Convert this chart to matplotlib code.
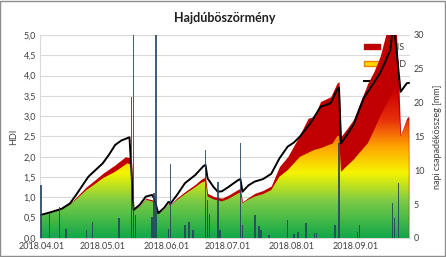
import matplotlib
matplotlib.use("Agg")
import matplotlib.pyplot as plt
import matplotlib.dates as mdates
import numpy as np
from matplotlib.colors import LinearSegmentedColormap
from matplotlib.patches import Rectangle, Patch
from matplotlib.lines import Line2D

plt.rcParams['font.family'] = ['Lato', 'DejaVu Sans']

START = np.datetime64('2018-04-01')

# HDI (black line): day offset from 2018-04-01, value
hdi_days = [0, 5, 10, 14, 17, 23, 30, 33, 36, 39, 42, 43, 45, 48, 51, 54, 55, 57,
            60, 62, 63, 66, 70, 75, 79, 80, 81, 84, 86, 88, 91, 96, 97, 98, 101,
            104, 108, 112, 116, 120, 123, 126, 131, 136, 141, 144, 145, 146, 149,
            152, 157, 161, 165, 168, 170, 171, 172, 173, 174, 175, 178, 179]
hdi_vals = [0.57, 0.64, 0.72, 0.85, 1.06, 1.51, 1.84, 2.05, 2.29, 2.40, 2.46, 2.48,
            0.69, 0.82, 1.02, 1.06, 0.98, 0.61, 0.75, 0.89, 0.85, 1.05, 1.35, 1.55,
            1.77, 1.80, 1.47, 1.25, 1.14, 1.15, 1.25, 1.43, 1.45, 1.14, 1.30, 1.39,
            1.45, 1.58, 1.96, 2.25, 2.35, 2.50, 2.82, 3.23, 3.32, 3.65, 3.70, 2.33,
            2.55, 2.78, 3.44, 3.75, 4.06, 4.40, 4.63, 5.10, 5.10, 4.63, 4.10, 3.60,
            3.81, 3.82]

# HDIS (red area)
hdis_days = [0, 5, 10, 14, 17, 22, 26, 30, 36, 41, 43, 44, 45, 48, 51, 54, 55, 57,
             60, 62, 63, 66, 70, 75, 78, 80, 81, 84, 88, 91, 96, 97, 98, 101, 104,
             108, 112, 116, 120, 125, 130, 133, 136, 141, 144, 145, 146, 149, 152,
             155, 159, 162, 165, 168, 172, 173, 174, 175, 178, 179]
hdis_vals = [0.55, 0.63, 0.72, 0.85, 1.00, 1.26, 1.42, 1.59, 1.80, 2.00, 1.98, 1.90,
             0.69, 0.80, 0.98, 0.94, 0.90, 0.61, 0.72, 0.85, 0.83, 0.98, 1.14, 1.32,
             1.45, 1.50, 1.10, 1.02, 0.98, 1.05, 1.20, 1.22, 0.89, 1.00, 1.10, 1.17,
             1.28, 1.76, 2.00, 2.45, 2.95, 2.99, 3.36, 3.48, 3.81, 3.85, 2.50, 2.70,
             2.91, 3.30, 3.81, 4.10, 4.47, 5.05, 5.10, 5.00, 4.00, 2.54, 2.95, 3.00]

# HDID (gradient area)
hdid_days = [0, 5, 10, 14, 17, 22, 26, 30, 36, 42, 43, 44, 45, 48, 51, 54, 55, 57,
             60, 62, 63, 66, 70, 75, 78, 80, 81, 84, 88, 91, 96, 97, 98, 101, 104,
             108, 112, 116, 120, 126, 133, 136, 142, 144, 145, 146, 149, 152, 155,
             159, 162, 165, 170, 173, 174, 175, 178, 179]
hdid_vals = [0.54, 0.62, 0.70, 0.82, 0.95, 1.18, 1.32, 1.47, 1.63, 1.84, 1.82, 1.80,
             0.66, 0.77, 0.94, 0.90, 0.87, 0.59, 0.70, 0.82, 0.80, 0.93, 1.08, 1.25,
             1.36, 1.40, 1.02, 0.95, 0.90, 0.96, 1.10, 1.12, 0.86, 0.95, 1.02, 1.08,
             1.18, 1.51, 1.67, 2.00, 2.17, 2.21, 2.33, 2.50, 2.52, 1.63, 1.78, 1.92,
             2.10, 2.33, 2.65, 2.99, 3.48, 3.81, 3.30, 2.50, 2.88, 2.92]

# daily precipitation [mm]
rain_days = [0, 4, 9, 12, 22, 25, 38, 44, 45, 46, 54, 55, 56, 62, 63, 70, 72, 74,
             80, 81, 82, 86, 87, 97, 98, 104, 106, 107, 111, 120, 123, 125, 129,
             133, 134, 143, 145, 154, 155, 171, 172, 174]
rain_vals = [7.8, 3.7, 4.6, 1.4, 1.2, 2.4, 2.9, 20.9, 32.0, 3.4, 3.1, 6.6, 32.0,
             1.4, 11.0, 1.9, 2.4, 1.2, 13.0, 5.6, 3.6, 8.3, 1.2, 14.0, 1.9, 3.4,
             1.7, 1.2, 0.4, 2.7, 0.6, 0.9, 2.2, 0.8, 0.8, 1.9, 14.0, 0.9, 1.9, 5.1,
             3.0, 8.1]


def to_num(days):
    return mdates.date2num(START + np.array(days, dtype='timedelta64[D]'))


fig = plt.figure(figsize=(4.46, 2.57), dpi=100)
ax = fig.add_axes([0.09, 0.074, 0.829, 0.79])
ax2 = ax.twinx()

x_lo = to_num([0])[0] - 0.5
x_hi = to_num([179])[0] + 0.5

# red HDIS area
ax.fill_between(to_num(hdis_days), 0, hdis_vals, color='#c00000', lw=0, zorder=1.5)

# gradient HDID area
cmap = LinearSegmentedColormap.from_list('hdid', [
    (0.0, '#10a84a'), (0.18, '#7ccb45'), (0.32, '#f6f400'),
    (0.45, '#ffa200'), (0.58, '#e8300c'), (0.72, '#cc0000'), (1.0, '#c00000')])
grad = np.linspace(0, 1, 256).reshape(-1, 1)
im = ax.imshow(grad, extent=[x_lo, x_hi, 0, 5], aspect='auto', cmap=cmap,
               origin='lower', zorder=2, interpolation='bilinear')
poly = ax.fill_between(to_num(hdid_days), 0, hdid_vals, facecolor='none',
                       edgecolor='none')
im.set_clip_path(poly.get_paths()[0], transform=ax.transData)

ax.plot(to_num(hdi_days), hdi_vals, color='black', lw=1.4, zorder=3)

ax.set_xlim(x_lo, x_hi)
ax.set_ylim(0, 5)
ax.set_yticks(np.arange(0, 5.01, 0.5))
ax.set_yticklabels([f"{v:.1f}".replace('.', ',') for v in np.arange(0, 5.01, 0.5)])
ax.grid(axis='y', color='#d9d9d9', lw=0.8, zorder=0)
ax.set_axisbelow(True)
ax.xaxis.set_major_locator(mdates.MonthLocator())
ax.xaxis.set_major_formatter(mdates.DateFormatter('%Y.%m.%d'))

ax2.bar(to_num(rain_days), rain_vals, width=0.8, color='#24435e', alpha=0.85,
        zorder=3)
ax2.set_ylim(0, 30)
ax2.set_yticks(range(0, 31, 5))

for a in (ax, ax2):
    a.tick_params(length=0, labelsize=6.5, colors='#404040', pad=3)
    for s in a.spines.values():
        s.set_visible(False)
ax.spines['left'].set_visible(True)
ax.spines['left'].set_color('#d9d9d9')
ax.spines['bottom'].set_visible(True)
ax.spines['bottom'].set_color('#d9d9d9')

ax.set_ylabel('HDI', fontsize=6.5, color='#404040', labelpad=4)
ax2.set_ylabel('napi csapadékösszeg [mm]', fontsize=6.5, color='#404040',
               rotation=90, labelpad=6)

fig.text(0.505, 0.93, 'Hajdúböszörmény', ha='center', va='center',
         fontsize=9, fontweight='bold', color='#202020')

handles = [Patch(facecolor='#c00000', edgecolor='#c00000'),
           Patch(facecolor='#ffd700', edgecolor='#f08000', lw=1),
           Line2D([], [], color='black', lw=1.4)]
leg = ax.legend(handles, ['HDIS', 'HDID', 'HDI'], loc='upper right',
                bbox_to_anchor=(1.012, 1.0), frameon=False, fontsize=6.5,
                handlelength=1.8, handleheight=0.5, labelspacing=0.85,
                handletextpad=0.3, labelcolor='#404040')
leg.set_zorder(1)

fig.patches.append(Rectangle((0.001, 0.004), 0.997, 0.994, transform=fig.transFigure,
                             fill=False, edgecolor='#8c8c8c', lw=1))

fig.savefig('out.png', dpi=100)
